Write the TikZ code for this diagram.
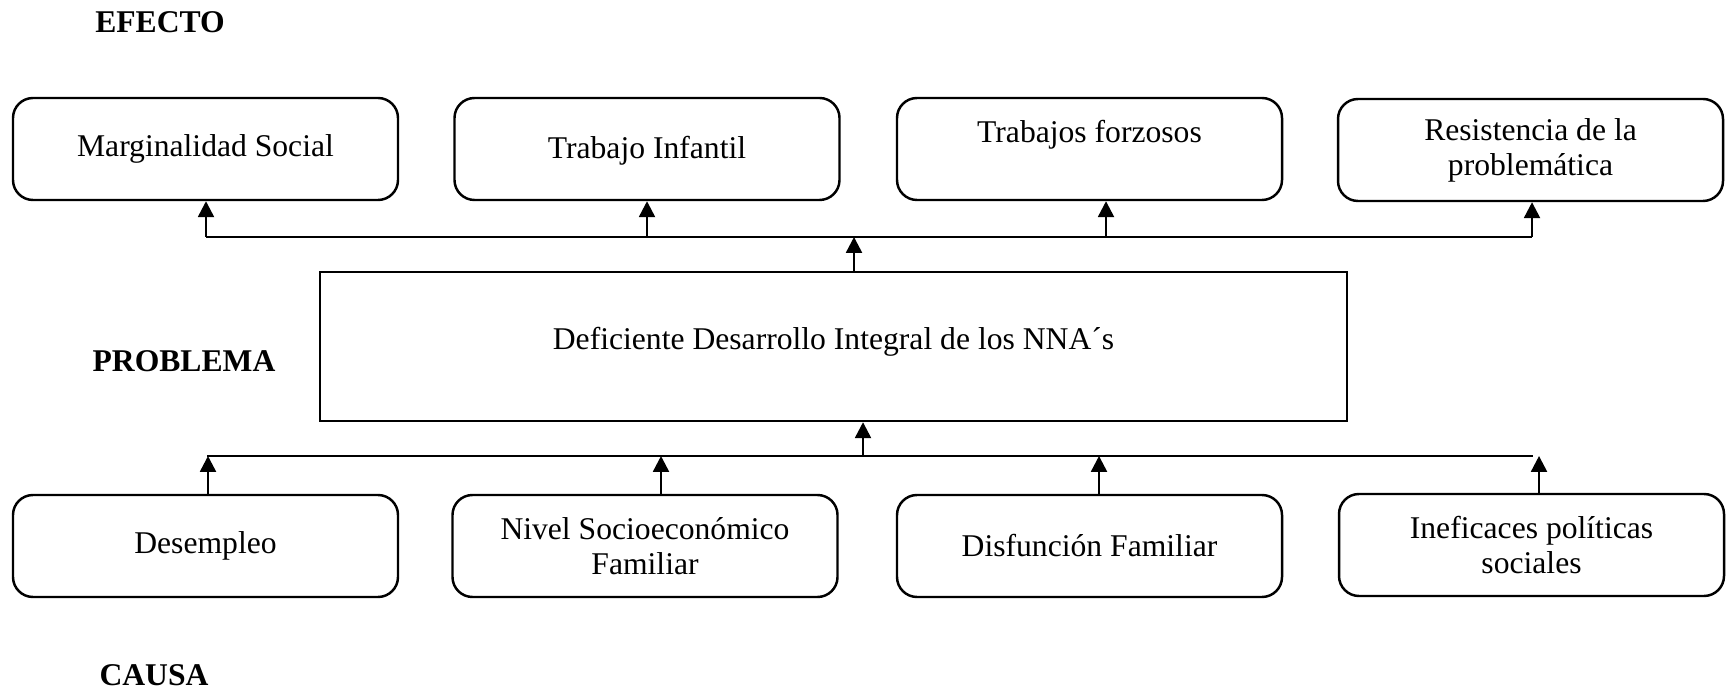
\documentclass[tikz,border=0pt]{standalone}
\usepackage{fontspec}
\setmainfont{Liberation Serif}
\usetikzlibrary{positioning,arrows.meta}

\begin{document}
\begin{tikzpicture}[
    every node/.style={font=\fontsize{9}{10}\selectfont},
    box/.style={rectangle,draw,line width=0.7pt,rounded corners=0.2cm,minimum width=3.85cm,minimum height=1.02cm,align=center,inner sep=0pt},
    mainbox/.style={rectangle,draw,line width=0.7pt,minimum width=10.27cm,minimum height=1.49cm,align=center,inner sep=0pt},
    tag/.style={font=\fontsize{9}{10}\selectfont\bfseries},
    bus/.style={line width=0.7pt},
    arr/.style={line width=0.7pt,-{Triangle[width=4.5pt,length=4.5pt]}}
]
\useasboundingbox (0,0) rectangle (17.27,-6.94);

% Row labels
\node[tag] (efecto)   at (1.60,-0.22) {EFECTO};
\node[tag] (problema) at (1.84,-3.61) {PROBLEMA};
\node[tag] (causa)    at (1.54,-6.75) {CAUSA};

% Effects (top row)
\node[box] (ef1) at (2.055,-1.49)  {Marginalidad Social};
\node[box,text depth=0.04cm] (ef2) at (6.47,-1.49) {Trabajo Infantil};
\node[box,text depth=0.36cm] (ef3) at (10.895,-1.49) {Trabajos forzosos};
\node[box] (ef4) at (15.305,-1.50) {Resistencia de la\\problemática};

% Problem
\node[mainbox,text depth=0.16cm] (prob) at (8.335,-3.465) {Deficiente Desarrollo Integral de los NNA´s};

% Causes (bottom row)
\node[box] (ca1) at (2.055,-5.46)  {Desempleo};
\node[box] (ca2) at (6.45,-5.46)   {Nivel Socioeconómico\\Familiar};
\node[box] (ca3) at (10.895,-5.46) {Disfunción Familiar};
\node[box] (ca4) at (15.315,-5.45) {Ineficaces políticas\\sociales};

% Upper bus
\coordinate (ebusL) at (2.06,-2.37);
\coordinate (ebusR) at (15.32,-2.37);
\coordinate (eup)   at (8.54,-2.37);
\draw[bus] (ebusL) -- (ebusR);
\draw[arr] (prob.north -| eup) -- (eup);
\draw[arr] (ebusL) -- (ebusL |- ef1.south);
\draw[arr] (ebusL -| ef2.south) -- (ef2.south);
\draw[arr] (ebusL -| 11.06,0) -- (ef3.south -| 11.06,0);
\draw[arr] (ebusR) -- (ebusR |- ef4.south);

% Lower bus
\coordinate (cbusL) at (2.07,-4.56);
\coordinate (cbusR) at (15.33,-4.56);
\coordinate (cup)   at (8.63,-4.56);
\draw[bus] (cbusL) -- (cbusR);
\draw[arr] (cup) -- (prob.south -| cup);
\draw[arr] (ca1.north -| 2.08,0) -- (cbusL -| 2.08,0);
\draw[arr] (ca2.north -| 6.61,0) -- (cbusL -| 6.61,0);
\draw[arr] (ca3.north -| 10.99,0) -- (cbusL -| 10.99,0);
\draw[arr] (ca4.north -| 15.39,0) -- (cbusL -| 15.39,0);

\end{tikzpicture}
\end{document}
